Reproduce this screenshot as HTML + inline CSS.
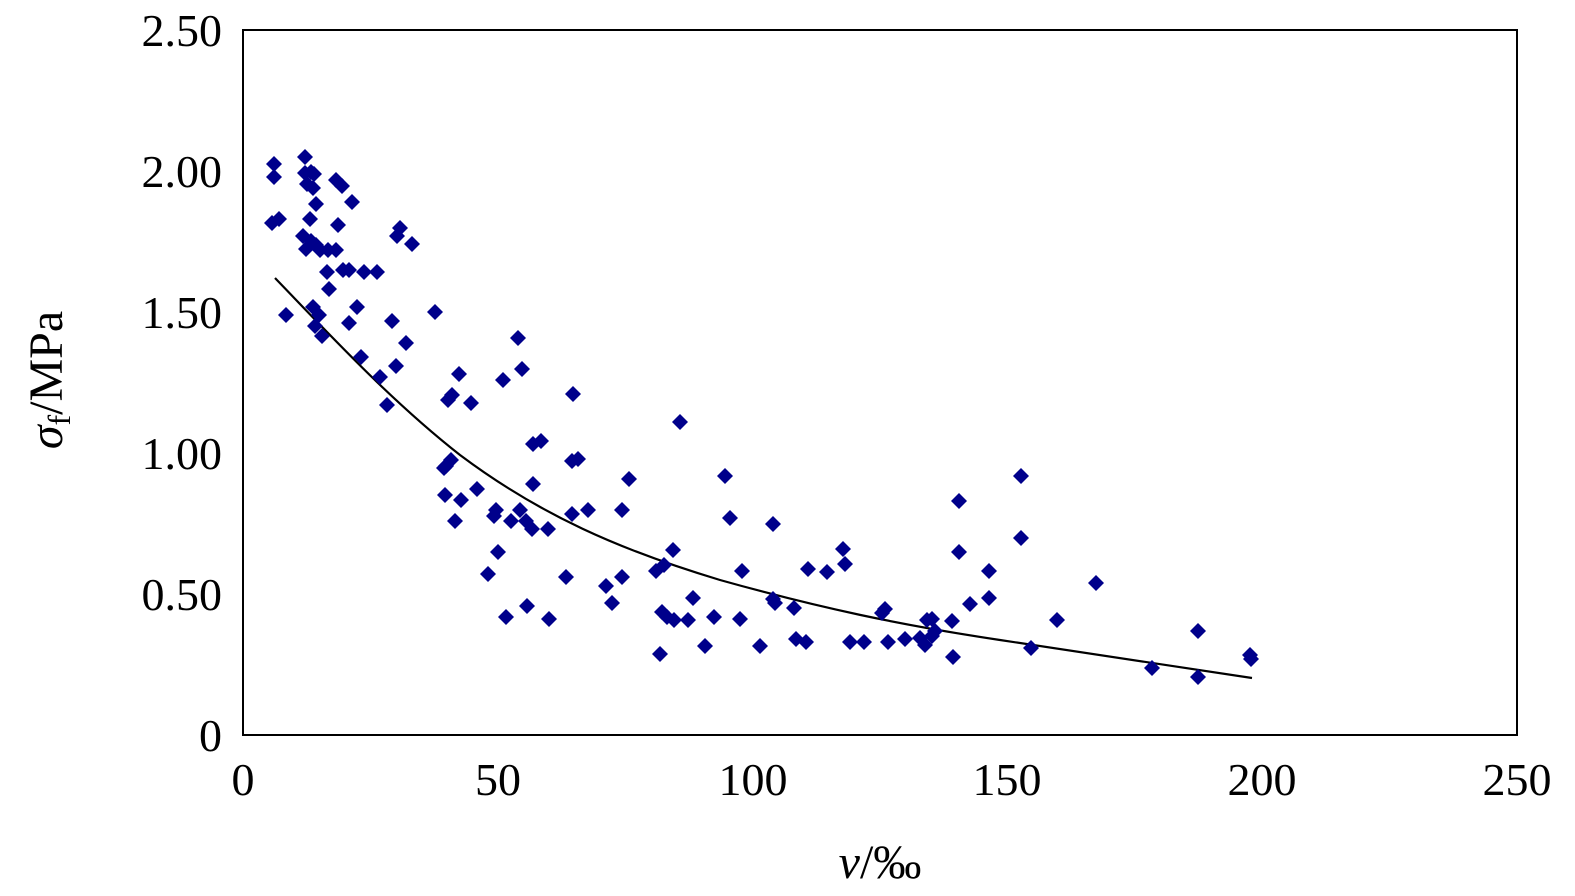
<!DOCTYPE html>
<html><head><meta charset="utf-8"><style>
html,body{margin:0;padding:0;background:#fff;overflow:hidden;width:1575px;height:896px}
svg{display:block}
svg text{font-family:"Liberation Serif","DejaVu Serif",serif;fill:#000}
</style></head><body>
<svg width="1575" height="896" viewBox="0 0 1575 896" xmlns="http://www.w3.org/2000/svg">
<rect x="243" y="30" width="1274" height="705" fill="none" stroke="#000" stroke-width="2"/>
<g font-size="46" text-anchor="end">
<text x="222" y="751">0</text>
<text x="222" y="610">0.50</text>
<text x="222" y="469">1.00</text>
<text x="222" y="328">1.50</text>
<text x="222" y="187">2.00</text>
<text x="222" y="46">2.50</text>
</g>
<g font-size="46" text-anchor="middle">
<text x="243" y="795">0</text>
<text x="498" y="795">50</text>
<text x="753" y="795">100</text>
<text x="1007" y="795">150</text>
<text x="1262" y="795">200</text>
<text x="1517" y="795">250</text>
</g>
<text x="880" y="878" font-size="48" text-anchor="middle"><tspan font-style="italic">v</tspan>/‰</text>
<text transform="translate(62,380) rotate(-90)" font-size="48" text-anchor="middle"><tspan font-style="italic">σ</tspan><tspan font-size="32" dy="8">f</tspan><tspan dy="-8">/MPa</tspan></text>
<path fill="none" stroke="#000" stroke-width="2.2" d="M275,278 C330,335 390,400 460,455 C540,515 620,550 720,580 C820,608 900,625 1000,640 C1100,655 1180,667 1252,678"/>
<g fill="#00008B" id="pts"></g>
</svg>
<script>
var p=[[274,164],[274,177],[272,223],[279,219],[286,315],[305,157],[305,173],[307,184],[311,172],[313,188],[314,174],[310,219],[303,236],[306,249],[311,241],[316,245],[320,250],[316,204],[313,307],[319,315],[315,326],[322,336],[336,180],[342,186],[352,202],[338,225],[336,250],[328,250],[327,272],[329,289],[343,270],[349,270],[364,272],[377,272],[357,307],[349,323],[361,357],[380,377],[387,405],[392,321],[396,366],[397,236],[400,228],[406,343],[412,244],[435,312],[459,374],[452,395],[448,400],[471,403],[446,466],[444,468],[451,460],[445,495],[461,500],[455,521],[477,489],[496,510],[494,516],[498,552],[488,574],[503,380],[518,338],[522,369],[506,617],[511,521],[520,510],[526,521],[532,529],[527,606],[533,444],[541,441],[533,484],[548,529],[549,619],[566,577],[573,394],[572,461],[578,459],[572,514],[588,510],[606,586],[612,603],[622,577],[622,510],[629,479],[680,422],[656,571],[664,565],[673,550],[662,612],[667,617],[674,620],[660,654],[688,620],[693,598],[705,646],[714,617],[725,476],[730,518],[742,571],[740,619],[760,646],[773,524],[773,599],[775,603],[794,608],[796,639],[806,642],[808,569],[827,572],[843,549],[845,564],[850,642],[864,642],[882,613],[885,609],[888,642],[905,639],[920,638],[925,645],[927,620],[932,619],[935,631],[932,636],[952,621],[953,657],[959,501],[959,552],[970,604],[989,571],[989,598],[1021,476],[1021,538],[1031,648],[1057,620],[1096,583],[1152,668],[1198,631],[1198,677],[1250,655],[1251,659]];
var g=document.getElementById('pts'),s='';
p.forEach(function(q){var x=q[0],y=q[1];s+='<polygon points="'+x+','+(y-8)+' '+(x+8)+','+y+' '+x+','+(y+8)+' '+(x-8)+','+y+'"/>';});
g.innerHTML=s;
</script>
</body></html>
